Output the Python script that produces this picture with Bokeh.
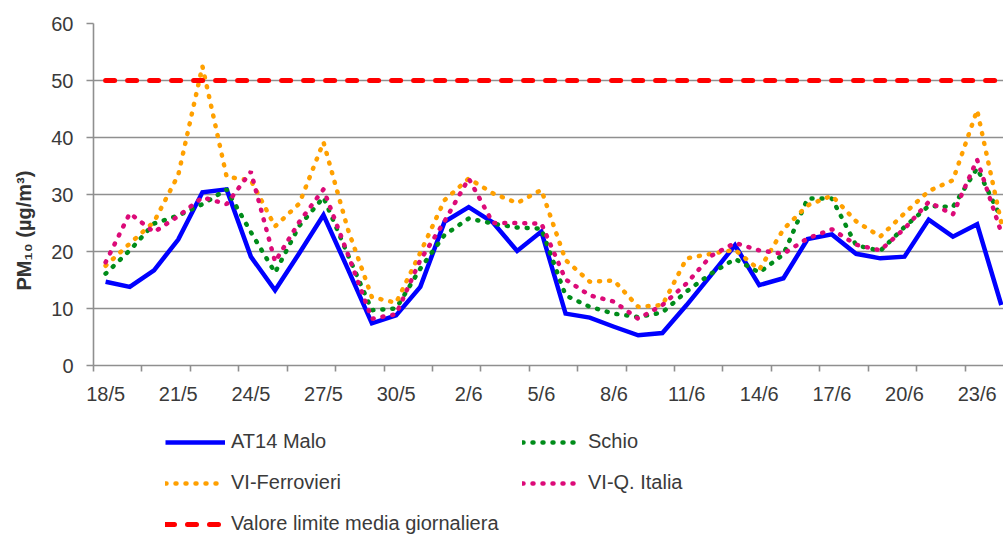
import math
from bokeh.plotting import figure
from bokeh.layouts import column
from bokeh.models import (FixedTicker, Legend, LegendItem, Title, Range1d,
                          ColumnDataSource)
from bokeh.embed import file_html
from bokeh.resources import INLINE

# ---------------- data ----------------
dates = ["18/5", "19/5", "20/5", "21/5", "22/5", "23/5", "24/5", "25/5", "26/5",
         "27/5", "28/5", "29/5", "30/5", "31/5", "1/6", "2/6", "3/6", "4/6",
         "5/6", "6/6", "7/6", "8/6", "9/6", "10/6", "11/6", "12/6", "13/6",
         "14/6", "15/6", "16/6", "17/6", "18/6", "19/6", "20/6", "21/6",
         "22/6", "23/6", "24/6"]

at14_malo = [14.7, 13.8, 16.7, 22.1, 30.4, 30.9, 19.1, 13.2, 19.7, 26.4, 17.0,
             7.4, 8.8, 13.8, 25.2, 27.8, 25.1, 20.1, 23.5, 9.1, 8.4, 6.8, 5.3,
             5.7, 10.6, 15.8, 21.1, 14.1, 15.3, 22.2, 23.0, 19.6, 18.8, 19.1,
             25.6, 22.6, 24.8, 10.6]

schio = [16.1, 20.2, 24.9, 26.3, 28.3, 30.9, 23.4, 16.3, 24.5, 29.5, 19.5,
         9.7, 10.0, 17.0, 22.9, 25.8, 24.9, 24.2, 24.0, 12.3, 10.3, 9.1, 8.5,
         9.3, 13.0, 16.1, 18.7, 16.3, 19.5, 29.3, 29.3, 21.1, 20.1, 24.3,
         28.0, 27.8, 34.6, 25.8]

vi_ferrovieri = [17.5, 21.4, 25.2, 33.4, 52.5, 33.1, 32.5, 24.4, 28.4, 39.2,
                 24.0, 12.0, 11.0, 19.8, 29.0, 32.8, 30.2, 28.5, 30.8, 18.5,
                 14.7, 14.9, 10.3, 10.6, 18.8, 19.6, 20.3, 16.8, 23.9, 28.1,
                 29.8, 25.3, 22.6, 26.7, 30.6, 32.5, 44.8, 25.0]

vi_q_italia = [18.1, 26.7, 23.4, 26.2, 29.5, 28.3, 34.0, 18.2, 25.2, 30.9,
               19.6, 8.2, 9.0, 18.5, 25.3, 32.8, 25.0, 25.0, 24.9, 15.1, 12.3,
               11.2, 8.2, 10.6, 14.4, 19.2, 21.5, 20.2, 19.6, 22.3, 23.9, 21.2,
               20.2, 24.0, 28.7, 26.5, 36.1, 23.3]

limit_value = 50
limite = [limit_value] * len(dates)

y_ticks = [0, 10, 20, 30, 40, 50, 60]
label_every = 3

series_names = ["AT14 Malo", "Schio", "VI-Ferrovieri", "VI-Q. Italia",
                "Valore limite media giornaliera"]
y_title = "PM\u2081\u2080 (\u00b5g/m\u00b3)"

# ---------------- styles ----------------
FONT = "Liberation Sans"
GRID = "#8f8f8f"
TXT = "#3a3a3a"
STYLES = {
    "malo": dict(line_color="#0000FF", line_width=4.5, line_join="miter"),
    "schio": dict(line_color="#008c1a", line_width=4.5, line_dash="1 9",
                  line_cap="round"),
    "ferr": dict(line_color="#FFA000", line_width=4.5, line_dash="1 9",
                 line_cap="round"),
    "qit": dict(line_color="#DC0A78", line_width=4.5, line_dash="1 9",
                line_cap="round"),
    "lim": dict(line_color="#FF0000", line_width=5, line_dash="9 13",
                line_cap="round"),
}

# ---------------- main figure ----------------
idx = list(range(len(dates)))
src = ColumnDataSource(dict(x=idx, malo=at14_malo, schio=schio,
                            ferr=vi_ferrovieri, qit=vi_q_italia, lim=limite))

p = figure(width=1003, height=412, output_backend="svg", toolbar_location=None,
           x_range=Range1d(-0.5, 37.09), y_range=Range1d(0, 60),
           min_border_left=93, min_border_right=0, min_border_top=23,
           min_border_bottom=47)
p.outline_line_color = None
p.xgrid.visible = False
p.ygrid.grid_line_color = GRID
p.ygrid.grid_line_width = 1.6
p.ygrid.ticker = FixedTicker(ticks=y_ticks)

p.yaxis.ticker = FixedTicker(ticks=y_ticks)
p.yaxis.axis_line_color = GRID
p.yaxis.axis_line_width = 1.6
p.yaxis.major_tick_line_color = GRID
p.yaxis.major_tick_line_width = 1.6
p.yaxis.major_tick_out = 7
p.yaxis.major_tick_in = 0
p.yaxis.minor_tick_line_color = None
p.yaxis.major_label_text_font = FONT
p.yaxis.major_label_text_font_size = "20px"
p.yaxis.major_label_text_color = TXT
p.yaxis.major_label_standoff = 13

label_pos = idx[::label_every]
bounds = [i - 0.5 for i in range(0, len(dates) + 1, 2)]
p.xaxis.ticker = FixedTicker(ticks=label_pos, minor_ticks=bounds)
p.xaxis.major_label_overrides = {i: dates[i] for i in label_pos}
p.xaxis.axis_line_color = GRID
p.xaxis.axis_line_width = 1.6
p.xaxis.major_tick_line_color = None
p.xaxis.minor_tick_line_color = GRID
p.xaxis.minor_tick_line_width = 1.6
p.xaxis.minor_tick_out = 6
p.xaxis.minor_tick_in = 0
p.xaxis.major_label_text_font = FONT
p.xaxis.major_label_text_font_size = "20px"
p.xaxis.major_label_text_color = TXT
p.xaxis.major_label_standoff = 11

p.line("x", "malo", source=src, **STYLES["malo"])
p.line("x", "schio", source=src, **STYLES["schio"])
p.line("x", "ferr", source=src, **STYLES["ferr"])
p.line("x", "qit", source=src, **STYLES["qit"])
p.line("x", "lim", source=src, **STYLES["lim"])

p.add_layout(Title(text=y_title, align="left", offset=75, standoff=24,
                   vertical_align="top",
                   text_font=FONT, text_font_size="20px",
                   text_font_style="bold", text_color="#333333"), "left")

# ---------------- legend strip ----------------
lg = figure(width=1003, height=123, output_backend="svg", toolbar_location=None,
            x_range=Range1d(0, 1), y_range=Range1d(0, 1), min_border=0)
lg.outline_line_color = None
lg.axis.visible = False
lg.grid.visible = False

# legend proxies: a single point outside the strip's range (nothing drawn)
keys = ["malo", "schio", "ferr", "qit", "lim"]
rend = {k: lg.line(x=[-5], y=[-5], **STYLES[k]) for k in keys}


def make_legend(pairs, loc):
    return Legend(items=[LegendItem(label=n, renderers=[rend[k]]) for n, k in pairs],
                  location=loc, orientation="vertical",
                  padding=0, margin=0, spacing=18, glyph_width=60,
                  glyph_height=20, label_height=20, label_standoff=6,
                  border_line_color=None, background_fill_alpha=0,
                  label_text_font=FONT, label_text_font_size="20px",
                  label_text_color=TXT)


lg.add_layout(make_legend([(series_names[0], "malo"), (series_names[2], "ferr"),
                           (series_names[4], "lim")], (72, 0)))
lg.add_layout(make_legend([(series_names[1], "schio"), (series_names[3], "qit")],
                          (429, 41)))

open("out.html", "w").write(file_html(column(p, lg, spacing=0), INLINE))
